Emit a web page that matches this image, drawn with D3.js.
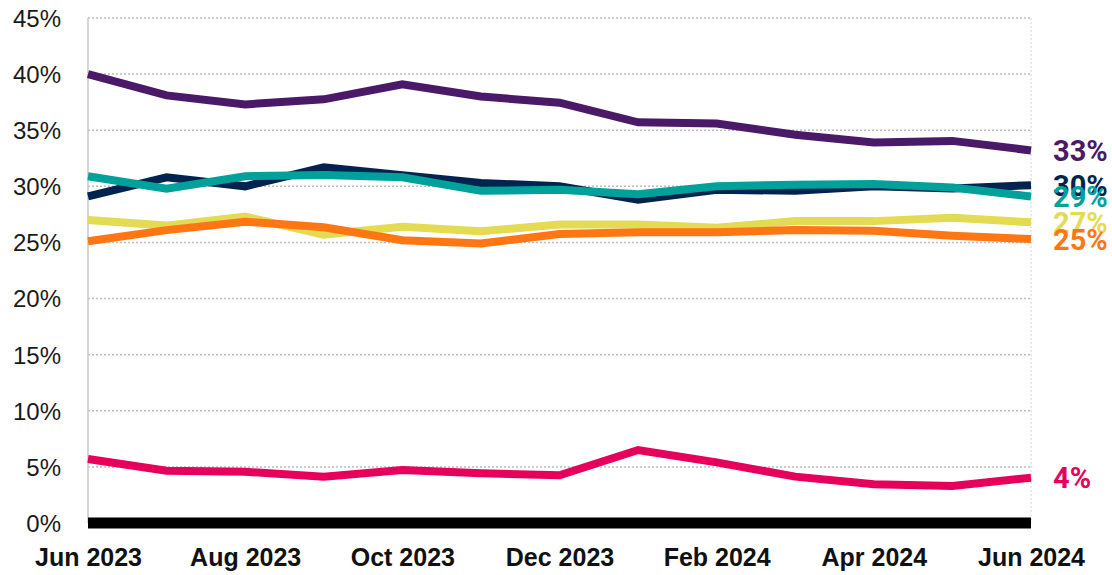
<!DOCTYPE html>
<html>
<head>
<meta charset="utf-8">
<script src="https://cdn.jsdelivr.net/npm/d3@7"></script>
<style>
  body { margin: 0; background: #fff; }
  svg { font-family: Roboto, "DejaVu Sans", sans-serif; }
  .ytick text { font-size: 24px; fill: #1a1a1a; }
  .xtick text { font-size: 25px; font-weight: 700; fill: #111; }
  .end-label { font-size: 29px; font-weight: 700; }
</style>
</head>
<body>
<svg id="chart" width="1112" height="575"></svg>
<script>
const svg = d3.select("#chart");
const width = +svg.attr("width");
const height = +svg.attr("height");

const margin = { top: 18, right: 81, bottom: 52, left: 88 };
const innerWidth = width - margin.left - margin.right;
const innerHeight = height - margin.top - margin.bottom;

const months = [
  "Jun 2023", "Jul 2023", "Aug 2023", "Sep 2023", "Oct 2023", "Nov 2023", "Dec 2023",
  "Jan 2024", "Feb 2024", "Mar 2024", "Apr 2024", "May 2024", "Jun 2024"
];
const xTickLabels = ["Jun 2023", "Aug 2023", "Oct 2023", "Dec 2023", "Feb 2024", "Apr 2024", "Jun 2024"];
const yTicks = [0, 5, 10, 15, 20, 25, 30, 35, 40, 45];

// drawing order: later series sit on top
const seriesNames = ["purple", "navy", "teal", "yellow", "orange", "pink"];
const seriesColors = ["#4a1a69", "#00244f", "#00a19b", "#e3db52", "#ff7612", "#e6005c"];

const purple = [40.0, 38.1, 37.3, 37.75, 39.1, 38.0, 37.45, 35.7, 35.6, 34.6, 33.9, 34.05, 33.2];
const navy   = [29.1, 30.8, 30.0, 31.7, 31.0, 30.3, 30.0, 28.8, 29.7, 29.6, 30.0, 29.8, 30.1];
const teal   = [30.9, 29.8, 30.9, 31.0, 30.8, 29.6, 29.7, 29.3, 30.0, 30.15, 30.2, 29.9, 29.1];
const yellow = [27.0, 26.5, 27.3, 25.7, 26.4, 26.0, 26.6, 26.6, 26.3, 26.9, 26.9, 27.2, 26.8];
const orange = [25.1, 26.1, 26.85, 26.35, 25.2, 24.9, 25.75, 25.9, 25.9, 26.1, 26.05, 25.6, 25.3];
const pink   = [5.7, 4.66, 4.57, 4.13, 4.72, 4.43, 4.25, 6.5, 5.4, 4.13, 3.45, 3.3, 4.04];

const endLabels = ["33%", "30%", "29%", "27%", "25%", "4%"];

const seriesValues = [purple, navy, teal, yellow, orange, pink];

const g = svg.append("g")
  .attr("transform", `translate(${margin.left}, ${margin.top})`);

const x = d3.scalePoint()
  .domain(months)
  .range([0, innerWidth]);

const y = d3.scaleLinear()
  .domain([0, 45])
  .range([innerHeight, 0]);

// dotted gridlines
g.append("g")
  .selectAll("line")
  .data(yTicks.filter(d => d > 0))
  .join("line")
  .attr("x1", 0)
  .attr("x2", innerWidth)
  .attr("y1", d => y(d))
  .attr("y2", d => y(d))
  .attr("stroke", "#bdbdbd")
  .attr("stroke-width", 1.5)
  .attr("stroke-dasharray", "2,2");

// faint right edge
g.append("line")
  .attr("x1", innerWidth).attr("x2", innerWidth)
  .attr("y1", 0).attr("y2", innerHeight)
  .attr("stroke", "#e4e4e4")
  .attr("stroke-width", 1.5)
  .attr("stroke-dasharray", "2,2");

// left axis line
g.append("line")
  .attr("x1", 0).attr("x2", 0)
  .attr("y1", 0).attr("y2", innerHeight)
  .attr("stroke", "#c8c8c8")
  .attr("stroke-width", 1.5);

// y tick labels
const yAxis = g.append("g")
  .attr("class", "ytick")
  .call(d3.axisLeft(y).tickValues(yTicks).tickFormat(d => `${d}%`).tickSize(0).tickPadding(27));
yAxis.select(".domain").remove();
yAxis.selectAll("text").attr("dy", "0.35em");

// x tick labels
const xAxis = g.append("g")
  .attr("class", "xtick")
  .attr("transform", `translate(0, ${innerHeight})`)
  .call(d3.axisBottom(x).tickValues(xTickLabels).tickSize(0).tickPadding(25));
xAxis.select(".domain").remove();

// thick baseline
g.append("line")
  .attr("x1", 0).attr("x2", innerWidth)
  .attr("y1", y(0)).attr("y2", y(0))
  .attr("stroke", "#000")
  .attr("stroke-width", 11);

const line = d3.line()
  .x((d, i) => x(months[i]))
  .y(d => y(d));

seriesValues.forEach((vals, i) => {
  g.append("path")
    .datum(vals)
    .attr("fill", "none")
    .attr("stroke", seriesColors[i])
    .attr("stroke-width", 8)
    .attr("stroke-linejoin", "miter")
    .attr("d", line);
});

seriesValues.forEach((vals, i) => {
  g.append("text")
    .attr("class", "end-label")
    .attr("x", innerWidth + 22)
    .attr("y", y(vals[vals.length - 1]))
    .attr("dy", "0.36em")
    .attr("fill", seriesColors[i])
    .text(endLabels[i]);
});
</script>
</body>
</html>
